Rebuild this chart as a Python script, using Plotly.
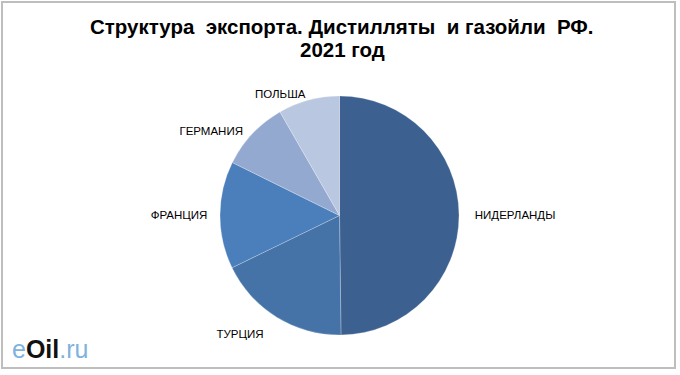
import plotly.graph_objects as go

countries = ["НИДЕРЛАНДЫ", "ТУРЦИЯ", "ФРАНЦИЯ", "ГЕРМАНИЯ", "ПОЛЬША"]
shares = [49.8, 18.0, 14.5, 9.4, 8.3]
colors = ["#3C6190", "#4573A8", "#4B7FBC", "#94A9CF", "#BAC7E0"]

W, H = 680, 375
NB = "\u00a0"
# extra spacing to push outside labels away from the pie edge
label_text = [
    NB * 4 + countries[0],
    NB + "<br>" + countries[1] + NB * 2,
    countries[2] + NB * 3,
    countries[3] + NB * 2,
    countries[4],
]

fig = go.Figure(go.Pie(
    labels=countries,
    values=shares,
    text=label_text,
    sort=False,
    direction="clockwise",
    rotation=0,
    marker=dict(colors=colors, line=dict(color="rgba(255,255,255,0.4)", width=0.6)),
    textinfo="text",
    textposition="outside",
    textfont=dict(family="Liberation Sans, Arial, sans-serif", size=11.5, color="#000000"),
    domain=dict(x=[220 / W, 459 / W], y=[(H - 335) / H, (H - 96) / H]),
    showlegend=False,
    hoverinfo="label+percent",
))

fig.update_layout(
    width=W, height=H,
    margin=dict(l=0, r=0, t=0, b=0),
    paper_bgcolor="white",
    plot_bgcolor="white",
    annotations=[
        dict(text="<b>Структура  экспорта. Дистилляты  и газойли  РФ.</b>",
             x=342 / W, y=1 - 27 / H, xref="paper", yref="paper",
             xanchor="center", yanchor="middle", showarrow=False,
             font=dict(family="Liberation Sans, Arial, sans-serif", size=20.5, color="#000000")),
        dict(text="<b>2021 год</b>",
             x=342 / W, y=1 - 50 / H, xref="paper", yref="paper",
             xanchor="center", yanchor="middle", showarrow=False,
             font=dict(family="Liberation Sans, Arial, sans-serif", size=20.5, color="#000000")),
        dict(text="<span style='color:#7FB2DD'>e</span><b><span style='color:#111111'>Oil</span></b><span style='color:#7FB2DD'>.ru</span>",
             x=10 / W, y=1 - 349 / H, xref="paper", yref="paper",
             xanchor="left", yanchor="middle", showarrow=False,
             font=dict(family="Liberation Sans, Arial, sans-serif", size=25)),
    ],
    shapes=[
        dict(type="rect", xref="paper", yref="paper",
             x0=2 / W, x1=675 / W, y0=1 - 368 / H, y1=1 - 2 / H,
             line=dict(color="#BEBEBE", width=2), fillcolor="rgba(0,0,0,0)"),
    ],
)

fig.write_html("out.html", config={"displayModeBar": False},
               post_script="document.body.style.margin='0';document.body.style.overflow='hidden';")
